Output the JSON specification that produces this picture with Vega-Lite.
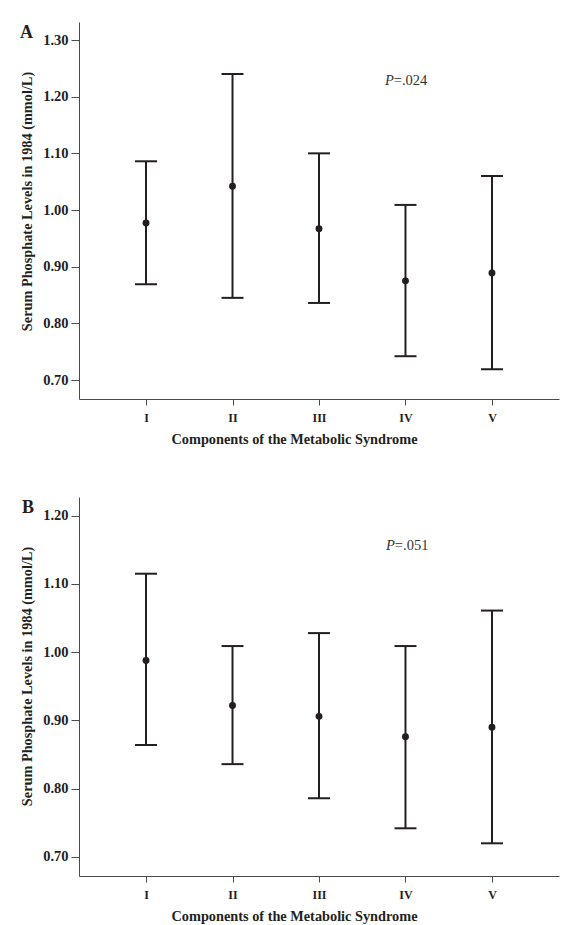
{
  "$schema": "https://vega.github.io/schema/vega-lite/v6.json",
  "background": "white",
  "padding": {"left": 20, "top": 22, "right": 10, "bottom": 2},
  "spacing": 50,
  "datasets": {
    "A": [
      {"comp": 1, "mean": 0.977, "lower": 0.869, "upper": 1.086},
      {"comp": 2, "mean": 1.042, "lower": 0.845, "upper": 1.240},
      {"comp": 3, "mean": 0.967, "lower": 0.836, "upper": 1.100},
      {"comp": 4, "mean": 0.875, "lower": 0.742, "upper": 1.009},
      {"comp": 5, "mean": 0.889, "lower": 0.719, "upper": 1.060}
    ],
    "B": [
      {"comp": 1, "mean": 0.988, "lower": 0.864, "upper": 1.115},
      {"comp": 2, "mean": 0.922, "lower": 0.836, "upper": 1.009},
      {"comp": 3, "mean": 0.906, "lower": 0.786, "upper": 1.028},
      {"comp": 4, "mean": 0.876, "lower": 0.742, "upper": 1.009},
      {"comp": 5, "mean": 0.890, "lower": 0.720, "upper": 1.061}
    ],
    "one": [{"k": 1}]
  },
  "config": {
    "view": {"stroke": null},
    "font": "Liberation Serif",
    "axis": {
      "grid": false,
      "labelFont": "Liberation Serif",
      "labelFontWeight": "bold",
      "labelFontSize": 14.5,
      "labelColor": "#231f20",
      "titleFont": "Liberation Serif",
      "titleFontWeight": "bold",
      "titleFontSize": 14.3,
      "titleColor": "#231f20",
      "domainColor": "#4a4a4a",
      "tickColor": "#4a4a4a",
      "domainWidth": 1,
      "tickWidth": 1
    },
    "axisX": {"tickSize": 6, "labelPadding": 7, "labelFontSize": 12, "titlePadding": 9, "titleX": 215},
    "axisY": {"tickSize": 8, "labelPadding": 3, "titlePadding": 8, "titleY": 179}
  },
  "vconcat": [
    {
      "width": 480,
      "height": 377,
      "layer": [
        {
          "data": {"name": "A"},
          "mark": {"type": "rule", "strokeWidth": 2, "color": "#231f20"},
          "encoding": {
            "x": {"field": "comp", "type": "quantitative", "scale": {"domain": [0.225, 5.775], "nice": false, "zero": false}, "axis": {"values": [1, 2, 3, 4, 5], "labelExpr": "['','I','II','III','IV','V'][datum.value]", "title": "Components of the Metabolic Syndrome"}},
            "y": {"field": "lower", "type": "quantitative", "scale": {"domain": [0.6665, 1.3318], "nice": false, "zero": false}, "axis": {"values": [0.7, 0.8, 0.9, 1.0, 1.1, 1.2, 1.3], "format": ".2f", "title": "Serum Phosphate Levels in 1984 (mmol/L)"}},
            "y2": {"field": "upper"}
          }
        },
        {
          "data": {"name": "A"},
          "mark": {"type": "tick", "orient": "horizontal", "thickness": 2, "size": 22, "color": "#231f20", "opacity": 1},
          "encoding": {"x": {"field": "comp", "type": "quantitative"}, "y": {"field": "upper", "type": "quantitative"}}
        },
        {
          "data": {"name": "A"},
          "mark": {"type": "tick", "orient": "horizontal", "thickness": 2, "size": 22, "color": "#231f20", "opacity": 1},
          "encoding": {"x": {"field": "comp", "type": "quantitative"}, "y": {"field": "lower", "type": "quantitative"}}
        },
        {
          "data": {"name": "A"},
          "mark": {"type": "point", "filled": true, "size": 48, "color": "#231f20", "opacity": 1},
          "encoding": {"x": {"field": "comp", "type": "quantitative"}, "y": {"field": "mean", "type": "quantitative"}}
        },
        {
          "data": {"name": "one"},
          "mark": {"type": "text", "fontStyle": "italic", "fontSize": 14.5, "align": "left", "baseline": "middle", "color": "#333333", "font": "Liberation Serif"},
          "encoding": {"x": {"datum": 3.763, "type": "quantitative"}, "y": {"datum": 1.2276, "type": "quantitative"}, "text": {"value": "P"}}
        },
        {
          "data": {"name": "one"},
          "mark": {"type": "text", "fontSize": 14.5, "align": "left", "baseline": "middle", "color": "#333333", "font": "Liberation Serif"},
          "encoding": {"x": {"datum": 3.865, "type": "quantitative"}, "y": {"datum": 1.2276, "type": "quantitative"}, "text": {"value": "=.024"}}
        },
        {
          "data": {"name": "one"},
          "mark": {"type": "text", "fontWeight": "bold", "fontSize": 18, "align": "center", "baseline": "middle", "color": "#231f20", "font": "Liberation Serif"},
          "encoding": {"x": {"datum": -0.382, "type": "quantitative"}, "y": {"datum": 1.312, "type": "quantitative"}, "text": {"value": "A"}}
        }
      ]
    },
    {
      "width": 480,
      "height": 379,
      "layer": [
        {
          "data": {"name": "B"},
          "mark": {"type": "rule", "strokeWidth": 2, "color": "#231f20"},
          "encoding": {
            "x": {"field": "comp", "type": "quantitative", "scale": {"domain": [0.225, 5.775], "nice": false, "zero": false}, "axis": {"values": [1, 2, 3, 4, 5], "labelExpr": "['','I','II','III','IV','V'][datum.value]", "title": "Components of the Metabolic Syndrome"}},
            "y": {"field": "lower", "type": "quantitative", "scale": {"domain": [0.6721, 1.2274], "nice": false, "zero": false}, "axis": {"values": [0.7, 0.8, 0.9, 1.0, 1.1, 1.2], "format": ".2f", "title": "Serum Phosphate Levels in 1984 (mmol/L)"}},
            "y2": {"field": "upper"}
          }
        },
        {
          "data": {"name": "B"},
          "mark": {"type": "tick", "orient": "horizontal", "thickness": 2, "size": 22, "color": "#231f20", "opacity": 1},
          "encoding": {"x": {"field": "comp", "type": "quantitative"}, "y": {"field": "upper", "type": "quantitative"}}
        },
        {
          "data": {"name": "B"},
          "mark": {"type": "tick", "orient": "horizontal", "thickness": 2, "size": 22, "color": "#231f20", "opacity": 1},
          "encoding": {"x": {"field": "comp", "type": "quantitative"}, "y": {"field": "lower", "type": "quantitative"}}
        },
        {
          "data": {"name": "B"},
          "mark": {"type": "point", "filled": true, "size": 48, "color": "#231f20", "opacity": 1},
          "encoding": {"x": {"field": "comp", "type": "quantitative"}, "y": {"field": "mean", "type": "quantitative"}}
        },
        {
          "data": {"name": "one"},
          "mark": {"type": "text", "fontStyle": "italic", "fontSize": 14.5, "align": "left", "baseline": "middle", "color": "#333333", "font": "Liberation Serif"},
          "encoding": {"x": {"datum": 3.775, "type": "quantitative"}, "y": {"datum": 1.1556, "type": "quantitative"}, "text": {"value": "P"}}
        },
        {
          "data": {"name": "one"},
          "mark": {"type": "text", "fontSize": 14.5, "align": "left", "baseline": "middle", "color": "#333333", "font": "Liberation Serif"},
          "encoding": {"x": {"datum": 3.877, "type": "quantitative"}, "y": {"datum": 1.1556, "type": "quantitative"}, "text": {"value": "=.051"}}
        },
        {
          "data": {"name": "one"},
          "mark": {"type": "text", "fontWeight": "bold", "fontSize": 18, "align": "center", "baseline": "middle", "color": "#231f20", "font": "Liberation Serif"},
          "encoding": {"x": {"datum": -0.365, "type": "quantitative"}, "y": {"datum": 1.2106, "type": "quantitative"}, "text": {"value": "B"}}
        }
      ]
    }
  ]
}
